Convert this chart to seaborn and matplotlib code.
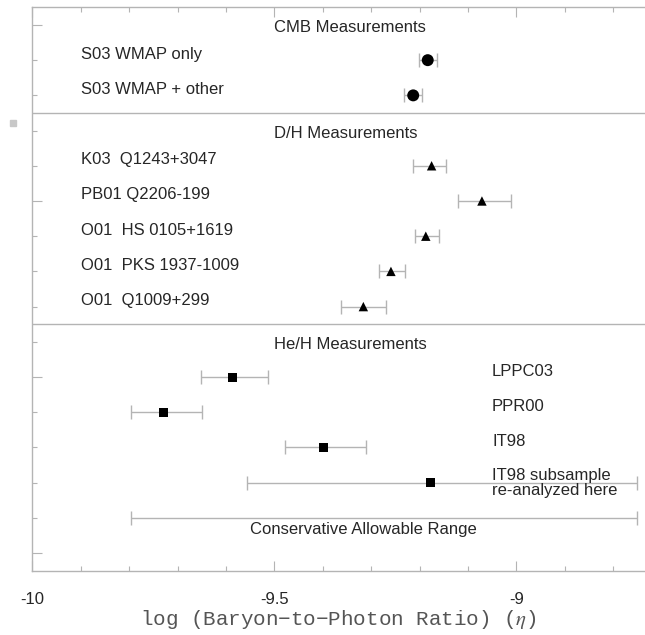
import matplotlib
matplotlib.use("Agg")
import matplotlib.pyplot as plt
import numpy as np
import pandas as pd
import seaborn as sns
from matplotlib.ticker import MultipleLocator
from matplotlib.patches import Rectangle

# --- data: log(eta) central values with lower / upper bounds ---
cmb_labels = ["S03 WMAP only", "S03 WMAP + other"]
cmb_eta = [-9.183, -9.213]
cmb_low = [-9.201, -9.231]
cmb_high = [-9.164, -9.194]

dh_labels = ["K03  Q1243+3047", "PB01 Q2206-199", "O01  HS 0105+1619",
             "O01  PKS 1937-1009", "O01  Q1009+299"]
dh_eta = [-9.175, -9.071, -9.187, -9.259, -9.316]
dh_low = [-9.214, -9.120, -9.209, -9.284, -9.363]
dh_high = [-9.145, -9.011, -9.160, -9.229, -9.269]

he_labels = ["LPPC03", "PPR00", "IT98", "IT98 subsample\nre-analyzed here"]
he_eta = [-9.586, -9.728, -9.399, -9.178]
he_low = [-9.651, -9.797, -9.477, -9.557]
he_high = [-9.512, -9.649, -9.311, -8.751]

range_label = "Conservative Allowable Range"
range_low = -9.797
range_high = -8.751

section_titles = ["CMB Measurements", "D/H Measurements", "He/H Measurements"]
x_ticks = [-10, -9.5, -9]
x_ticklabels = ["-10", "-9.5", "-9"]

# row layout: one header row per section, then its measurements
cmb_rows = [1, 2]
dh_rows = [4, 5, 6, 7, 8]
he_rows = [10, 11, 12, 13]
title_rows = [0, 3, 9]
range_row = 14

df = pd.DataFrame({
    "eta": cmb_eta + dh_eta + he_eta,
    "low": cmb_low + dh_low + he_low,
    "high": cmb_high + dh_high + he_high,
    "row": cmb_rows + dh_rows + he_rows,
    "kind": ["CMB"] * len(cmb_eta) + ["D/H"] * len(dh_eta) + ["He/H"] * len(he_eta),
})

sns.set_theme(style="ticks")
plt.rcParams["font.family"] = ["Liberation Sans", "DejaVu Sans"]
plt.rcParams["mathtext.fontset"] = "stix"

W, H = 645, 635
fig = plt.figure(figsize=(W / 100, H / 100), dpi=100)
ax = fig.add_axes([32.3 / W, (H - 571) / H, 1 - 32.3 / W, (571 - 7) / H])

grey = "#b4b4b4"

# error bars
ax.errorbar(df["eta"], df["row"],
            xerr=[df["eta"] - df["low"], df["high"] - df["eta"]],
            fmt="none", ecolor=grey, elinewidth=1.0, capsize=5, capthick=1.0, zorder=1)
ax.errorbar([(range_low + range_high) / 2], [range_row],
            xerr=[[(range_high - range_low) / 2], [(range_high - range_low) / 2]],
            fmt="none", ecolor=grey, elinewidth=1.0, capsize=5, capthick=1.0, zorder=1)

# central values
sns.scatterplot(data=df, x="eta", y="row", style="kind", size="kind",
                markers={"CMB": "o", "D/H": "^", "He/H": "s"},
                sizes={"CMB": 74, "D/H": 46, "He/H": 42},
                color="black", edgecolor="none", linewidth=0, legend=False,
                ax=ax, zorder=3)

# section dividers
for yv in (2.5, 8.5):
    ax.axhline(yv, color=grey, lw=1.0, zorder=0)

fs = 12
for r, t in zip(title_rows, section_titles):
    ax.text(-9.5, r + 0.07, t, fontsize=fs, ha="left", va="center")
for r, t in zip(cmb_rows + dh_rows, cmb_labels + dh_labels):
    ax.text(-9.9, r - 0.17, t, fontsize=fs, ha="left", va="center")
for r, t in zip(he_rows, he_labels):
    off = 0.02 if "\n" in t else -0.17
    ax.text(-9.05, r + off, t, fontsize=fs, ha="left", va="center", linespacing=1.0)
ax.text(-9.55, range_row + 0.33, range_label, fontsize=fs, ha="left", va="center")

ax.set_xlim(-10, -10 + (W - 32.3) / 484)
ax.set_ylim(15.51, -0.51)

ax.set_xticks(x_ticks)
ax.set_xticklabels(x_ticklabels)
ax.xaxis.set_minor_locator(MultipleLocator(0.1))
ax.yaxis.set_major_locator(MultipleLocator(5))
ax.yaxis.set_minor_locator(MultipleLocator(1))
ax.set_yticklabels([])
ax.tick_params(axis="x", which="both", direction="in", top=True, bottom=True,
               color=grey, labelsize=fs, pad=15)
ax.tick_params(axis="y", which="both", direction="in", left=True, right=False,
               color=grey)
ax.tick_params(which="major", length=7.5, width=0.8)
ax.tick_params(which="minor", length=3.8, width=0.8)
ax.set_xlabel("log (Baryon\u2212to\u2212Photon Ratio) ($\\eta$)",
              family=["Liberation Mono", "DejaVu Sans Mono"],
              fontsize=15, color="#555555", labelpad=1)
ax.set_ylabel("")

for side in ("left", "top", "bottom"):
    ax.spines[side].set_color(grey)
    ax.spines[side].set_linewidth(1.0)
ax.spines["right"].set_visible(False)

# small grey mark left of the frame
fig.patches.append(Rectangle((10 / W, (H - 126) / H), 6 / W, 6 / H,
                             transform=fig.transFigure, color="#c8c8c8", zorder=0))

fig.savefig("out.png", dpi=100)
